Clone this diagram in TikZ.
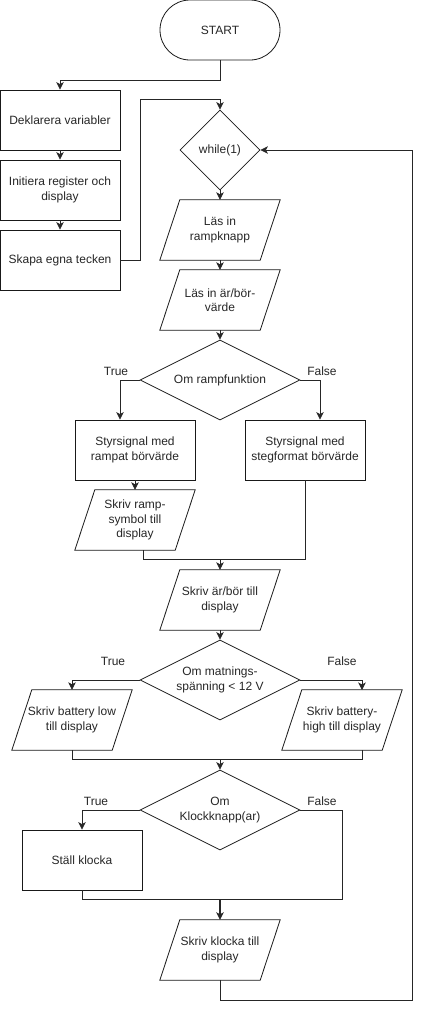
\documentclass[tikz,border=0pt]{standalone}
\usepackage{fontspec}
\setmainfont{Liberation Sans}
\usetikzlibrary{calc, shapes.geometric, arrows.meta}

\begin{document}
\begin{tikzpicture}[x=1pt, y=-1pt,
		every node/.style={font=\fontsize{12}{14.5}\selectfont, text=black!85, align=center},
		outline/.style={draw=black!90, line width=0.8pt},
		process/.style={outline, rectangle, minimum width=120pt, minimum height=60pt, inner sep=2pt},
		terminal/.style={outline, rectangle, rounded corners=30pt, minimum width=120pt, minimum height=60pt},
		decision/.style={outline, diamond, aspect=2, inner sep=0pt, minimum width=160pt, minimum height=80pt},
		io/.style={rectangle, minimum width=120pt, minimum height=60pt, inner sep=2pt},
		flow/.style={draw=black!85, line width=0.8pt},
		arr/.style={flow, -{Stealth[length=7.5pt, width=7.5pt, inset=2pt]}}]
			\def\skew{20pt}
			\useasboundingbox (0,0) rectangle (422,1010);
			
			\node[terminal] (start) at (220,30) {START};
			\node[process] (dekl) at (60,120) {Deklarera variabler};
			\node[process] (init) at (60,190) {Initiera register och\\display};
			\node[process] (tecken) at (60,260) {Skapa egna tecken};
			\node[decision, aspect=1, minimum width=80pt] (loop) at (220,150) {while(1)};
			\node[io] (rampknapp) at (220,230) {Läs in\\rampknapp};
			\node[io] (varde) at (220,300) {Läs in är/bör-\\värde};
			\node[decision] (rampfunk) at (220,380) {Om rampfunktion};
			\node[process] (rampat) at (135,450) {Styrsignal med\\rampat börvärde};
			\node[process] (steg) at (305,450) {Styrsignal med\\stegformat börvärde};
			\node[io] (symbol) at (135,520) {Skriv ramp-\\symbol till\\display};
			\node[io] (skrivvarde) at (220,600) {Skriv är/bör till\\display};
			\node[decision] (matning) at (220,680) {Om matnings-\\spänning < 12 V};
			\node[io] (low) at (72,720) {Skriv battery low\\till display};
			\node[io] (high) at (342,720) {Skriv battery-\\high till display};
			\node[decision] (klockknapp) at (220,810) {Om\\Klockknapp(ar)};
			\node[process] (klocka) at (82,860) {Ställ klocka};
			\node[io] (skrivklocka) at (220,950) {Skriv klocka till\\display};
			
			\foreach \n in {rampknapp, varde, symbol, skrivvarde, low, high, skrivklocka}
				\draw[outline] ([xshift=\skew]\n.north west) -- (\n.north east) -- ([xshift=-\skew]\n.south east) -- (\n.south west) -- cycle;
			
			\node (true1) at (116,371) {True};
			\node (false1) at (322,371) {False};
			\node (true2) at (113,661) {True};
			\node (false2) at (342,661) {False};
			\node (true3) at (96,801) {True};
			\node (false3) at (322,801) {False};
			
			\draw[arr] (start.south) -- ++(0,20) -| (dekl.north);
			\draw[arr] (dekl) -- (init);
			\draw[arr] (init) -- (tecken);
			\draw[arr] (tecken.east) -- ++(20,0) |- ($(loop.north)+(0,-10)$) -- (loop.north);
			\draw[arr] (loop) -- (rampknapp);
			\draw[arr] (rampknapp) -- (varde);
			\draw[arr] (varde) -- (rampfunk);
			
			\draw[arr] (rampfunk.west) -| ($(rampat.north)+(-15,0)$);
			\draw[arr] (rampfunk.east) -| ($(steg.north)+(15,0)$);
			\draw[arr] (rampat) -- (symbol);
			\draw[flow] ($(symbol.center)+(8,30)$) |- ($(skrivvarde.north)+(0,-10)$) -| (steg.south);
			\draw[arr] ($(skrivvarde.north)+(0,-10)$) -- (skrivvarde.north);
			
			\draw[arr] (skrivvarde) -- (matning);
			\draw[arr] (matning.west) -| (low);
			\draw[arr] (matning.east) -| ($(high.center)+(20,-30)$);
			\draw[flow] (low) |- ($(klockknapp.north)+(0,-10)$) -| ($(high.center)+(20,30)$);
			\draw[arr] ($(klockknapp.north)+(0,-10)$) -- (klockknapp.north);
			
			\draw[arr] (klockknapp.west) -| (klocka);
			\draw[flow] (klockknapp.east) -| ($(skrivklocka.north)+(122,-20)$) -| (klocka);
			\draw[arr, line width=1.4pt] ($(skrivklocka.north)+(0,-20)$) -- (skrivklocka.north);
			\draw[arr] (skrivklocka) |- ($(loop.east)+(152,850)$) |- (loop.east);
		\end{tikzpicture}
\end{document}
